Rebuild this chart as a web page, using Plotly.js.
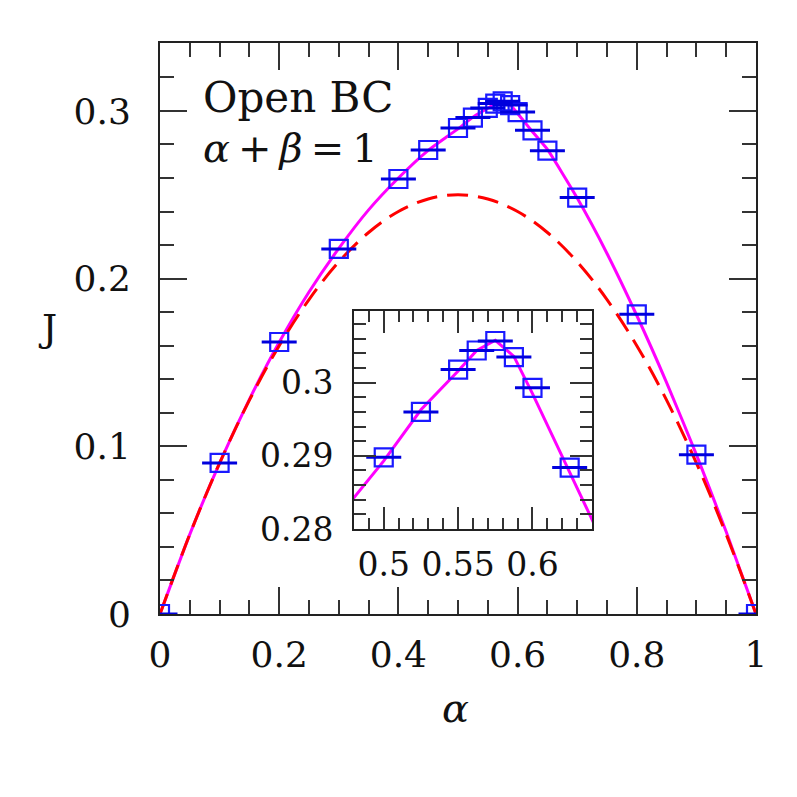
<!DOCTYPE html>
<html>
<head>
<meta charset="utf-8">
<script src="https://cdn.plot.ly/plotly-3.0.1.min.js"></script>
<style>
  html, body { margin: 0; padding: 0; background: #fff; }
  #plot { width: 797px; height: 797px; }
</style>
</head>
<body>
<div id="plot"></div>
<script>
// Simulation points (alpha, J)
const alphaSim = [0, 0.1, 0.2, 0.3, 0.4, 0.45, 0.5, 0.525, 0.55, 0.5625, 0.575, 0.5875, 0.6, 0.625, 0.65, 0.7, 0.8, 0.9, 1];
const jSim = [0, 0.0901, 0.1622, 0.2177, 0.2594, 0.2767, 0.2898, 0.296, 0.3018, 0.3044, 0.3057, 0.3035, 0.2993, 0.2884, 0.2763, 0.2483, 0.1787, 0.095, 0];

// Solid magenta curve
const alphaTheory = [0, 0.05, 0.1, 0.15, 0.2, 0.25, 0.3, 0.35, 0.4, 0.45, 0.48, 0.5, 0.525, 0.55, 0.5625, 0.575, 0.5875, 0.6, 0.625, 0.64, 0.65, 0.7, 0.75, 0.8, 0.85, 0.9, 0.95, 1];
const jTheory = [0, 0.0475, 0.09, 0.128, 0.162, 0.192, 0.218, 0.241, 0.26, 0.2765, 0.2843, 0.2893, 0.2963, 0.3016, 0.3044, 0.3058, 0.3036, 0.2985, 0.2876, 0.2813, 0.277, 0.248, 0.215, 0.178, 0.138, 0.095, 0.049, 0];

// Dashed red curve
const alphaMF = [0, 0.05, 0.1, 0.15, 0.2, 0.25, 0.3, 0.35, 0.4, 0.45, 0.5, 0.55, 0.6, 0.65, 0.7, 0.75, 0.8, 0.85, 0.9, 0.95, 1];
const jMF = [0, 0.0475, 0.09, 0.1275, 0.16, 0.1875, 0.21, 0.2275, 0.24, 0.2475, 0.25, 0.2475, 0.24, 0.2275, 0.21, 0.1875, 0.16, 0.1275, 0.09, 0.0475, 0];

const FONT = 'DejaVu Serif';
const BLUE = '#1a1aff';

function traces(xa, ya, curveShape) {
  return [
    { x: alphaTheory, y: jTheory, xaxis: xa, yaxis: ya, type: 'scatter', mode: 'lines',
      line: { color: '#ff00ff', width: 3, shape: curveShape, smoothing: 0.6 }, hoverinfo: 'skip' },
    { x: alphaMF, y: jMF, xaxis: xa, yaxis: ya, type: 'scatter', mode: 'lines',
      line: { color: '#ff0000', width: 3, dash: '21px,10px', shape: 'spline' }, hoverinfo: 'skip' },
    { x: alphaSim, y: jSim, xaxis: xa, yaxis: ya, type: 'scatter', mode: 'markers',
      marker: { symbol: 'square-open', size: 18, color: BLUE, line: { width: 2.2, color: BLUE } } },
    { x: alphaSim, y: jSim, xaxis: xa, yaxis: ya, type: 'scatter', mode: 'markers',
      marker: { symbol: 'line-ew-open', size: 25, color: '#0000dd', line: { width: 3, color: '#0000dd' } } }
  ];
}

const axisBase = {
  showgrid: false, zeroline: false, showline: true, mirror: 'allticks',
  linecolor: '#222', linewidth: 2, ticks: 'inside', tickcolor: '#333', tickwidth: 2
};

const layout = {
  width: 797, height: 797,
  margin: { l: 160, r: 41, t: 43, b: 183 },
  paper_bgcolor: '#fff', plot_bgcolor: '#fff',
  showlegend: false,
  font: { family: FONT, color: '#111' },
  xaxis: Object.assign({}, axisBase, {
    range: [0, 1], dtick: 0.2, ticklen: 27, tickfont: { size: 36 }, ticklabelstandoff: 8,
    minor: { dtick: 0.05, ticklen: 14, ticks: 'inside', tickcolor: '#333', tickwidth: 2 }
  }),
  yaxis: Object.assign({}, axisBase, {
    range: [0, 0.3405], dtick: 0.1, ticklen: 27, tickfont: { size: 36 }, ticklabelstandoff: 20,
    minor: { dtick: 0.02, ticklen: 14, ticks: 'inside', tickcolor: '#333', tickwidth: 2 }
  }),
  xaxis2: Object.assign({}, axisBase, {
    domain: [0.3255, 0.7248], anchor: 'y2',
    range: [0.48, 0.64], tick0: 0.5, dtick: 0.05, ticklen: 22, tickfont: { size: 33 }, ticklabelstandoff: 5,
    minor: { dtick: 0.01, ticklen: 11, ticks: 'inside', tickcolor: '#333', tickwidth: 2 }
  }),
  yaxis2: Object.assign({}, axisBase, {
    domain: [0.1489, 0.5306], anchor: 'x2',
    range: [0.28, 0.3098], dtick: 0.01, ticklen: 22, tickfont: { size: 33 }, ticklabelstandoff: 12,
    minor: { dtick: 0.002, ticklen: 12, ticks: 'inside', tickcolor: '#333', tickwidth: 2 }
  }),
  annotations: [
    { xref: 'paper', yref: 'paper', x: 0.0688, y: 0.9037, xanchor: 'left', yanchor: 'middle',
      text: 'Open BC', showarrow: false, font: { size: 42, family: FONT, color: '#111' } },
    { xref: 'paper', yref: 'paper', x: 0.0688, y: 0.816, xanchor: 'left', yanchor: 'middle',
      text: '<i>α</i>\u2009+\u2009<i>β</i>\u2009=\u20091', showarrow: false, font: { size: 40, family: FONT, color: '#111' } },
    { xref: 'paper', yref: 'paper', x: 0.495, y: -0.1646, xanchor: 'center', yanchor: 'middle',
      text: '<i>α</i>', showarrow: false, font: { size: 40, family: FONT, color: '#111' } },
    { xref: 'paper', yref: 'paper', x: -0.188, y: 0.5009, xanchor: 'center', yanchor: 'middle',
      text: 'J', showarrow: false, font: { size: 38, family: FONT, color: '#111' } }
  ]
};

const data = traces('x', 'y', 'spline').concat(traces('x2', 'y2', 'linear'));

Plotly.newPlot('plot', data, layout, { staticPlot: true });
</script>
</body>
</html>
